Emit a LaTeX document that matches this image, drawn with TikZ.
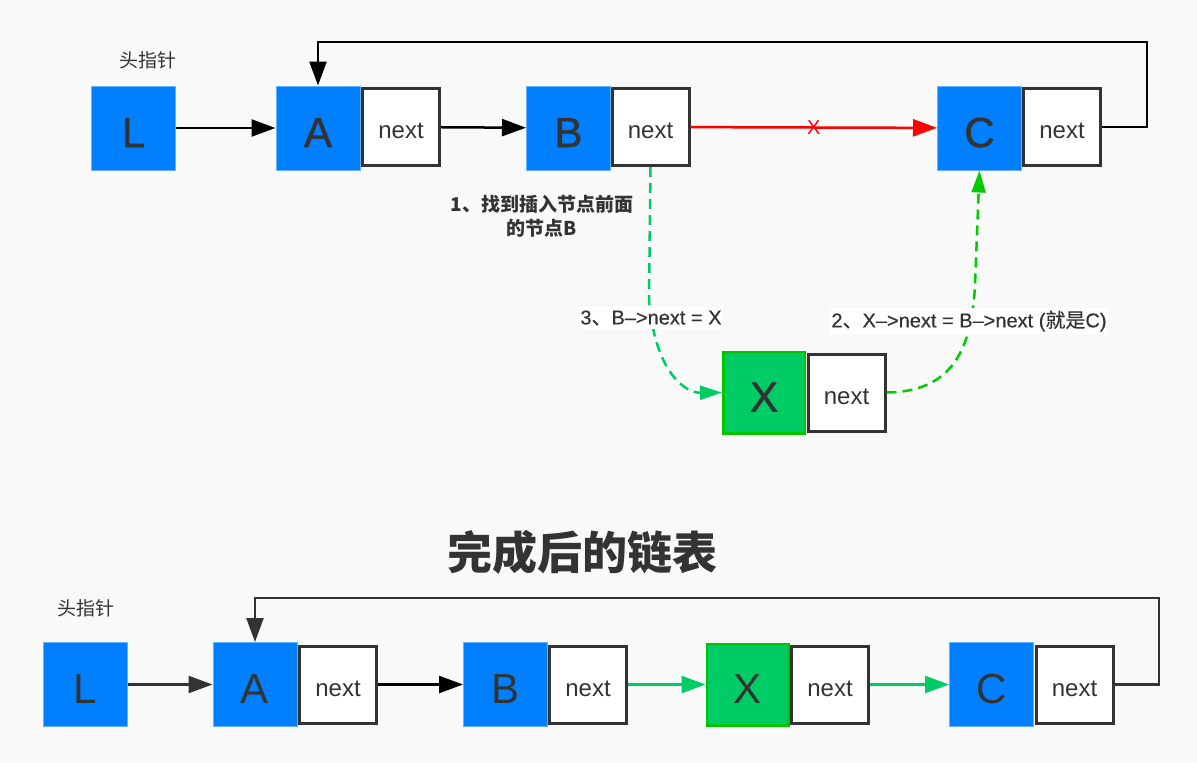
\documentclass[tikz,border=0pt]{standalone}
\usepackage{fontspec}
\setmainfont{Liberation Sans}
\newfontfamily\cjk{Noto Sans CJK SC}
\newfontfamily\semi[FakeBold=0.4]{Liberation Sans}
\newfontfamily\heavy[FakeBold=1.2]{Liberation Sans}
\newfontfamily\cjksemi[FakeBold=0.4]{Noto Sans CJK SC}
\usetikzlibrary{arrows.meta}
\definecolor{paper}{RGB}{249,249,249}
\definecolor{ink}{RGB}{51,51,51}
\definecolor{nodeblue}{RGB}{0,127,255}
\definecolor{xfill}{RGB}{0,204,102}
\definecolor{xedge}{RGB}{0,196,0}
\definecolor{teal}{RGB}{0,204,102}
\definecolor{lime}{RGB}{0,204,0}
\tikzset{databox/.style={fill=nodeblue, draw=nodeblue!60, line width=0.6pt, minimum size=84.4pt, inner sep=0pt, text=ink, text height=38pt, text depth=0pt, font=\fontsize{42}{42}\selectfont},
  newbox/.style={databox, fill=xfill, draw=xedge, line width=2.5pt, minimum size=81.5pt},
  heavybox/.style={font=\heavy\fontsize{42}{42}\selectfont},
  nextbox/.style={draw=ink, fill=white, line width=3pt, minimum size=77pt, inner sep=0pt, text=ink, text height=23pt, text depth=0pt, font=\fontsize{24}{24}\selectfont},
  link/.style={line width=2.5pt, -{Triangle[length=24pt,width=17pt]}},
  insert/.style={line width=2.5pt, dash pattern=on 10pt off 6pt, -{Triangle[length=22pt,width=14pt]}},
  tag/.style={text=ink, font=\cjk\fontsize{19}{19}\selectfont},
  note/.style={text=ink, font=\semi\fontsize{20}{20}\selectfont, fill=white, inner xsep=1pt, inner ysep=3pt}}

\begin{document}
\begin{tikzpicture}[x=1pt,y=-1pt]
   \fill[paper] (0,0) rectangle (1197,763);
   % before insertion
   \node[tag] (head) at (148,60) {头指针};
   \node[databox,heavybox] (L) at (133.5,128) {L};
   \node[nextbox] (An) at (401,127) {next};
   \node[databox,heavybox] (A) at (318,128) {A};
   \node[nextbox] (Bn) at (650.5,127) {next};
   \node[databox,heavybox] (B) at (568.5,128) {B};
   \node[nextbox] (Cn) at (1062,127) {next};
   \node[databox,heavybox] (C) at (979.5,128) {C};
   \node[nextbox] (Xn) at (846.5,392.5) {next};
   \node[newbox,heavybox] (X) at (764,392.5) {X};
   \draw[link] (L) -- (A);
   \draw[link] (An) -- (B);
   \draw[link,red] (Bn) -- (C) node[midway,text=red,font=\fontsize{20}{20}\selectfont] {X};
   \draw[link] (Cn.east) -| (1147,42) -| (A.north);
   \draw[insert,teal] (Bn.south) -- (649,300) .. controls (655,372) and (685,393) .. (X.west);
   \draw[insert,lime] (Xn.east) .. controls (955,392) and (972,345) .. (975,285) -- (C.south);
   \node[tag,font=\cjk\bfseries\fontsize{19}{24}\selectfont,align=center] (step1) at (542,216) {1、找到插入节点前面\\的节点B};
   \node[note] (step3) at (651,318) {3{\cjksemi 、}B–>next = X};
   \node[note] (step2) at (969,321) {2{\cjksemi 、}X–>next = B–>next ({\cjksemi 就是}C)};
   % after insertion
   \node[tag,font=\cjk\bfseries\fontsize{45}{45}\selectfont] (title) at (582,552) {完成后的链表};
   \node[tag] (head2) at (85.5,608) {头指针};
   \node[databox] (L2) at (85.5,684.5) {L};
   \node[nextbox] (An2) at (338,684.5) {next};
   \node[databox] (A2) at (255,684.5) {A};
   \node[nextbox] (Bn2) at (588,684.5) {next};
   \node[databox] (B2) at (505.5,684.5) {B};
   \node[nextbox] (Xn2) at (830,684.5) {next};
   \node[newbox] (X2) at (747.5,684.5) {X};
   \node[nextbox] (Cn2) at (1074.5,684.5) {next};
   \node[databox] (C2) at (991.5,684.5) {C};
   \draw[link,ink] (L2) -- (A2);
   \draw[link] (An2) -- (B2);
   \draw[link,teal] (Bn2) -- (X2);
   \draw[link,teal] (Xn2) -- (C2);
   \draw[link,ink] (Cn2.east) -| (1159,598) -| (A2.north);
\end{tikzpicture}
\end{document}
